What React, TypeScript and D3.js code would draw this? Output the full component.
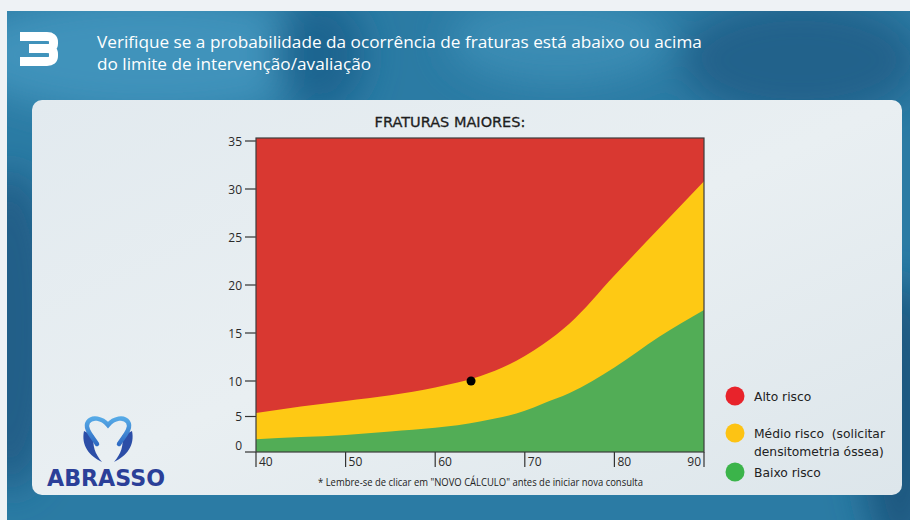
import React, { useEffect, useRef } from 'react';
import * as d3 from 'd3';

// Idade (anos) e limites de probabilidade (%)
const ages = [40, 45, 50, 55, 60, 65, 70, 72, 75, 80, 85, 90];
const upperLimit = [5.5, 6.4, 7.2, 8.0, 9.1, 10.5, 12.6, 13.8, 16.0, 21.0, 25.9, 30.8];
const lowerLimit = [1.8, 2.1, 2.4, 2.9, 3.4, 4.3, 5.8, 6.8, 8.3, 11.4, 14.6, 17.4];
const patient = { age: 64, risk: 10 };

const yTicks = [0, 5, 10, 15, 20, 25, 30, 35];
const xTicks = [40, 50, 60, 70, 80, 90];

const headingLines = [
  'Verifique se a probabilidade da ocorrência de fraturas está abaixo ou acima',
  'do limite de intervenção/avaliação',
];
const chartTitle = 'FRATURAS MAIORES:';
const footnote = '* Lembre-se de clicar em "NOVO CÁLCULO" antes de iniciar nova consulta';
const legendLabels = [['Alto risco'], ['Médio risco  (solicitar', 'densitometria óssea)'], ['Baixo risco']];
const legendColors = ['#e8232b', '#fdc314', '#3bb44a'];

const App: React.FC = () => {
  const svgRef = useRef<SVGSVGElement>(null);

  useEffect(() => {
    if (!svgRef.current) return;
    const svg = d3.select(svgRef.current);
    svg.selectAll('*').remove();

    const W = 910;
    const H = 520;
    const plot = { left: 256, right: 704, top: 138, bottom: 452 };

    const defs = svg.append('defs');
    defs.append('filter').attr('id', 'blur')
      .attr('x', '-50%').attr('y', '-50%').attr('width', '200%').attr('height', '200%')
      .append('feGaussianBlur').attr('stdDeviation', 18);
    const pg = defs.append('linearGradient').attr('id', 'panel')
      .attr('x1', 0).attr('y1', 0).attr('x2', 1).attr('y2', 1);
    pg.append('stop').attr('offset', '0%').attr('stop-color', '#e2eaef');
    pg.append('stop').attr('offset', '50%').attr('stop-color', '#e9eff2');
    pg.append('stop').attr('offset', '100%').attr('stop-color', '#dde6eb');
    const tg = defs.append('linearGradient').attr('id', 'tooth')
      .attr('x1', 0).attr('y1', 0).attr('x2', 0).attr('y2', 1);
    tg.append('stop').attr('offset', '0%').attr('stop-color', '#55a9e6');
    tg.append('stop').attr('offset', '100%').attr('stop-color', '#2f6cc4');

    // fundo azul texturizado
    svg.append('rect').attr('width', W).attr('height', H).attr('fill', '#2b7ba4');
    const blobs = svg.append('g').attr('filter', 'url(#blur)');
    blobs.append('ellipse').attr('cx', 150).attr('cy', 55).attr('rx', 190).attr('ry', 60).attr('fill', '#3f93bb');
    blobs.append('ellipse').attr('cx', 320).attr('cy', 55).attr('rx', 45).attr('ry', 60).attr('fill', '#1f6590');
    blobs.append('ellipse').attr('cx', 560).attr('cy', 40).attr('rx', 110).attr('ry', 45).attr('fill', '#3a8cb4');
    blobs.append('ellipse').attr('cx', 800).attr('cy', 60).attr('rx', 120).attr('ry', 60).attr('fill', '#20628b');
    blobs.append('ellipse').attr('cx', 10).attr('cy', 330).attr('rx', 50).attr('ry', 160).attr('fill', '#235f88');
    blobs.append('ellipse').attr('cx', 900).attr('cy', 420).attr('rx', 40).attr('ry', 140).attr('fill', '#1c5880');
    svg.append('rect').attr('x', 0).attr('y', 0).attr('width', W).attr('height', 11).attr('fill', '#eef2f5');
    svg.append('rect').attr('x', 0).attr('y', 0).attr('width', 7).attr('height', H).attr('fill', '#eef2f5');

    // número do passo
    svg.append('path')
      .attr('d', 'M20 36.5 H47 Q53.5 36.5 53.5 42 V43.5 Q53.5 48.5 47 48.5 H29 M47 48.5 Q53.5 48.5 53.5 54 V56 Q53.5 61.5 47 61.5 H20')
      .attr('fill', 'none').attr('stroke', '#ffffff').attr('stroke-width', 9);

    svg.append('g').selectAll('text').data(headingLines).enter().append('text')
      .attr('x', 97).attr('y', (d, i) => 48 + i * 22)
      .attr('fill', '#ffffff').attr('font-family', 'Open Sans, sans-serif').attr('font-size', 17.2)
      .text(d => d);

    // painel
    svg.append('rect').attr('x', 32).attr('y', 100).attr('width', 870).attr('height', 395)
      .attr('rx', 10).attr('fill', 'url(#panel)');

    // escalas
    const x = d3.scaleLinear().domain([40, 90]).range([plot.left, plot.right]);
    const y = d3.scaleLinear().domain([0, 10, 35]).range([plot.bottom, 381, 141]);

    const rows = ages.map((a, i) => ({ age: a, up: upperLimit[i], low: lowerLimit[i] }));

    const g = svg.append('g');
    g.append('rect').attr('x', plot.left).attr('y', plot.top)
      .attr('width', plot.right - plot.left).attr('height', plot.bottom - plot.top).attr('fill', '#d93831');

    const yellowArea = d3.area<typeof rows[0]>()
      .x(d => x(d.age)).y0(plot.bottom).y1(d => y(d.up)).curve(d3.curveMonotoneX);
    const greenArea = d3.area<typeof rows[0]>()
      .x(d => x(d.age)).y0(plot.bottom).y1(d => y(d.low)).curve(d3.curveMonotoneX);
    g.append('path').datum(rows).attr('d', yellowArea).attr('fill', '#fec914');
    g.append('path').datum(rows).attr('d', greenArea).attr('fill', '#52ad56');

    g.append('rect').attr('x', plot.left).attr('y', plot.top)
      .attr('width', plot.right - plot.left).attr('height', plot.bottom - plot.top)
      .attr('fill', 'none').attr('stroke', '#3d3d3d').attr('stroke-width', 1.2);

    // eixo y
    const yAxis = svg.append('g');
    yAxis.selectAll('line').data(yTicks).enter().append('line')
      .attr('x1', 245).attr('x2', plot.left).attr('y1', d => y(d)).attr('y2', d => y(d))
      .attr('stroke', '#333').attr('stroke-width', 1.2);
    yAxis.selectAll('text').data(yTicks).enter().append('text')
      .attr('x', 242).attr('y', d => y(d) + (d === 0 ? -2 : 4.5))
      .attr('text-anchor', 'end').attr('fill', '#2a2a2a')
      .attr('font-family', 'Open Sans, sans-serif').attr('font-size', 12)
      .text(d => d);

    // eixo x
    const xAxis = svg.append('g');
    xAxis.selectAll('line').data(xTicks).enter().append('line')
      .attr('x1', d => x(d)).attr('x2', d => x(d)).attr('y1', plot.bottom).attr('y2', 467)
      .attr('stroke', '#333').attr('stroke-width', 1.2);
    xAxis.selectAll('text').data(xTicks).enter().append('text')
      .attr('x', d => (d === 90 ? x(d) - 3 : x(d) + 3)).attr('y', 466)
      .attr('text-anchor', d => (d === 90 ? 'end' : 'start')).attr('fill', '#2a2a2a')
      .attr('font-family', 'Open Sans, sans-serif').attr('font-size', 12)
      .text(d => d);

    // paciente
    svg.append('circle').attr('cx', x(patient.age)).attr('cy', y(patient.risk)).attr('r', 4.5).attr('fill', '#000');

    // título
    svg.append('text').attr('x', 450).attr('y', 127).attr('text-anchor', 'middle')
      .attr('fill', '#1e1e1e').attr('stroke', '#1e1e1e').attr('stroke-width', 0.3)
      .attr('font-family', 'DejaVu Sans, sans-serif').attr('font-size', 14.5)
      .text(chartTitle);

    svg.append('text').attr('x', 318).attr('y', 486)
      .attr('fill', '#222').attr('font-family', 'Open Sans, sans-serif')
      .attr('font-size', 10.5).attr('textLength', 325).attr('lengthAdjust', 'spacingAndGlyphs')
      .text(footnote);

    // legenda
    const legendY = [396, 433, 472];
    const legend = svg.append('g');
    legendLabels.forEach((lines, i) => {
      legend.append('circle').attr('cx', 735).attr('cy', legendY[i]).attr('r', 9.5).attr('fill', legendColors[i]);
      lines.forEach((t, j) => {
        legend.append('text').attr('x', 754).attr('y', legendY[i] + 4.5 + j * 18)
          .attr('fill', '#222').attr('font-family', 'DejaVu Sans, sans-serif').attr('font-size', 12.3)
          .style('white-space', 'pre').text(t);
      });
    });

    // logo ABRASSO
    const logo = svg.append('g');
    logo.append('path')
      .attr('d', 'M84 431 C81 445 89 456 102 462 C95 454 92 445 94 436 Z')
      .attr('fill', '#2c4ea7');
    logo.append('path')
      .attr('d', 'M132 431 C135 445 127 456 114 462 C121 454 124 445 122 436 Z')
      .attr('fill', '#2c4ea7');
    logo.append('path')
      .attr('d', 'M97 444 C92 436 84 428 88 422 C92 416 102 418 108 425 C114 418 124 416 128 422 C132 428 124 436 119 444')
      .attr('fill', 'none').attr('stroke', 'url(#tooth)').attr('stroke-width', 4.5).attr('stroke-linecap', 'round');
    logo.append('text').attr('x', 47).attr('y', 486)
      .attr('fill', '#2b3f98').attr('font-family', 'DejaVu Sans, sans-serif').attr('font-weight', 'bold')
      .attr('font-size', 23).attr('textLength', 118).attr('lengthAdjust', 'spacingAndGlyphs')
      .text('ABRASSO');
  }, []);

  return (
    <div style={{ position: 'absolute', left: 0, top: 0 }}>
      <svg ref={svgRef} width={910} height={520} style={{ display: 'block' }}></svg>
    </div>
  );
};

export default App;
